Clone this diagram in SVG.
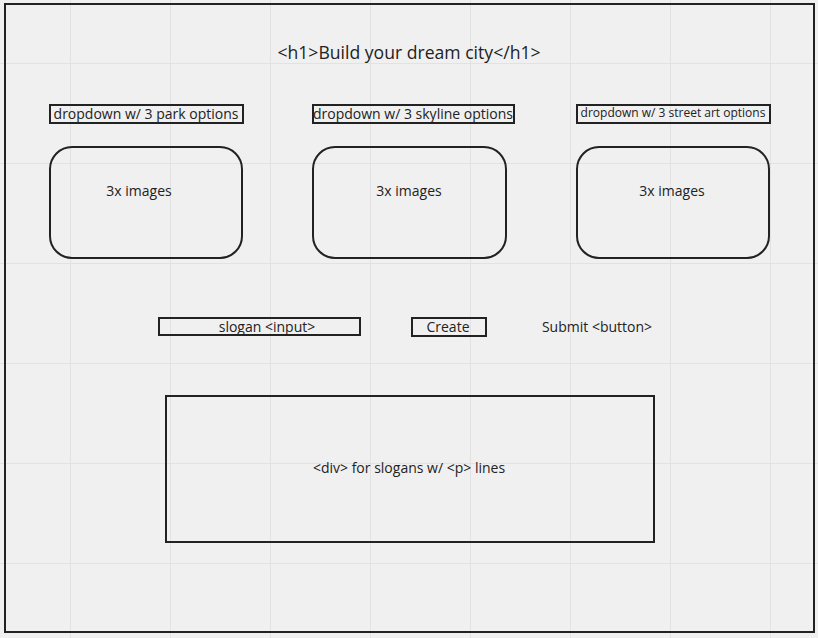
<svg xmlns="http://www.w3.org/2000/svg" width="818" height="638" viewBox="0 0 818 638">
<style>
text{font-family:"Open Sans","Noto Sans","Liberation Sans",sans-serif;fill:#222;text-anchor:middle;dominant-baseline:central}
.grid line{stroke:#e2e2e2;stroke-width:1}
.box{fill:none;stroke:#222;stroke-width:2}
.t{font-size:14px}
</style>
<rect x="0" y="0" width="818" height="638" fill="#f0f0f0"/>
<g class="grid">
<line x1="70.5" y1="0" x2="70.5" y2="638"/><line x1="170.5" y1="0" x2="170.5" y2="638"/><line x1="270.5" y1="0" x2="270.5" y2="638"/><line x1="370.5" y1="0" x2="370.5" y2="638"/><line x1="470.5" y1="0" x2="470.5" y2="638"/><line x1="570.5" y1="0" x2="570.5" y2="638"/><line x1="670.5" y1="0" x2="670.5" y2="638"/><line x1="770.5" y1="0" x2="770.5" y2="638"/>
<line x1="0" y1="63.5" x2="818" y2="63.5"/><line x1="0" y1="163.5" x2="818" y2="163.5"/><line x1="0" y1="263.5" x2="818" y2="263.5"/><line x1="0" y1="363.5" x2="818" y2="363.5"/><line x1="0" y1="463.5" x2="818" y2="463.5"/><line x1="0" y1="563.5" x2="818" y2="563.5"/>
</g>
<g id="frame"><rect class="box" x="5" y="4" width="809" height="628"/></g>
<g id="title"><text x="409" y="51.5" style="font-size:17.6px">&lt;h1&gt;Build your dream city&lt;/h1&gt;</text></g>
<g id="dropdown-park"><rect class="box" x="50" y="105" width="193" height="18"/><text class="t" x="146" y="113">dropdown w/ 3 park options</text></g>
<g id="dropdown-skyline"><rect class="box" x="313" y="105" width="201" height="18"/><text class="t" x="413" y="113">dropdown w/ 3 skyline options</text></g>
<g id="dropdown-street"><rect class="box" x="577" y="105" width="193" height="18"/><text x="673" y="112.5" style="font-size:12px">dropdown w/ 3 street art options</text></g>
<g id="images-1"><rect class="box" x="50" y="147" width="192" height="111" rx="22"/><text class="t" x="139" y="190">3x images</text></g>
<g id="images-2"><rect class="box" x="313" y="147" width="193" height="111" rx="22"/><text class="t" x="409" y="190">3x images</text></g>
<g id="images-3"><rect class="box" x="577" y="147" width="192" height="111" rx="22"/><text class="t" x="672" y="190">3x images</text></g>
<g id="slogan-input"><rect class="box" x="159" y="318" width="201" height="17"/><text class="t" x="267" y="326">slogan &lt;input&gt;</text></g>
<g id="create"><rect class="box" x="412" y="318" width="74" height="18"/><text class="t" x="448" y="326">Create</text></g>
<g id="submit"><text class="t" x="597" y="326">Submit &lt;button&gt;</text></g>
<g id="slogans-div"><rect class="box" x="166" y="396" width="488" height="146"/><text class="t" x="409" y="467">&lt;div&gt; for slogans w/ &lt;p&gt; lines</text></g>
<g id="connectors"></g>
</svg>
